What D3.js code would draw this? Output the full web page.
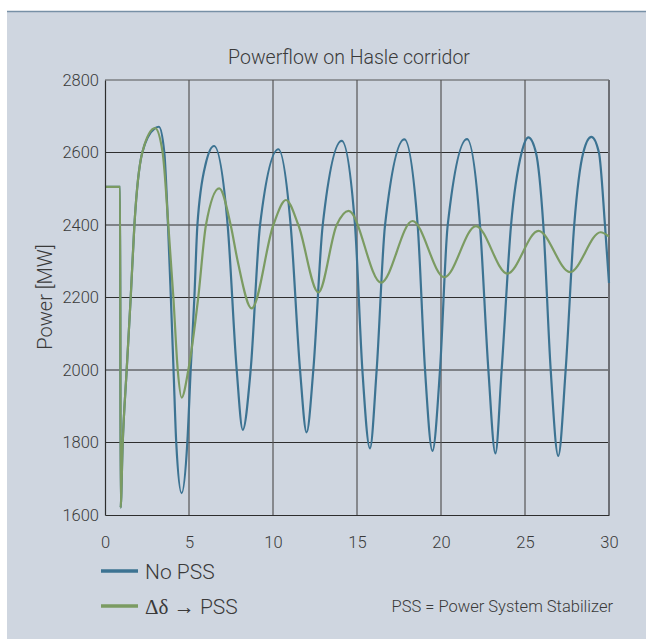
<!DOCTYPE html>
<html>
<head>
<meta charset="utf-8">
<script src="https://cdn.jsdelivr.net/npm/d3@7"></script>
<style>
  body { margin: 0; background: #fff; }
  text { font-family: Roboto, "Liberation Sans", sans-serif; font-weight: 300; fill: #3a3a3a; }
</style>
</head>
<body>
<div id="chart-area"></div>
<script>
const W = 646, H = 639
const MARGIN = { LEFT: 105, RIGHT: 37, TOP: 80, BOTTOM: 124 }
const WIDTH = W - MARGIN.LEFT - MARGIN.RIGHT
const HEIGHT = H - MARGIN.TOP - MARGIN.BOTTOM

// data: time [s], power [MW]
const noPssTime = [0, 0.9, 0.93, 1.05, 1.29, 1.53, 1.75, 2.22, 2.98, 3.21, 3.53, 3.75, 3.92, 4.08, 4.24, 4.56, 4.9, 5.1, 5.32, 5.5, 6.0, 6.49,
  7.3, 7.84, 8.2, 8.67, 9.23, 10.32, 11.05, 11.61, 12.0, 12.4, 12.96, 14.09, 14.88, 15.32, 15.77, 16.17, 16.67, 17.82,
  18.61, 19.05, 19.49, 19.94, 20.4, 21.55, 22.32, 22.82, 23.24, 23.61, 24.17, 24.8, 25.2, 25.65, 26.09, 26.53, 26.98,
  27.42, 27.93, 28.47, 28.95, 29.4, 29.76, 30]
const noPssPower = [2505, 2505, 1620, 1793, 2000, 2200, 2400, 2600, 2667, 2671, 2600, 2400, 2200, 2000, 1800, 1660, 1800, 2000, 2200, 2400, 2570, 2618,
  2400, 2000, 1835, 2000, 2400, 2609, 2400, 2000, 1828, 2000, 2400, 2632, 2400, 2000, 1784, 2000, 2400, 2636,
  2400, 2000, 1777, 2000, 2400, 2637, 2400, 2000, 1770, 2000, 2400, 2600, 2642, 2600, 2400, 2000, 1763,
  2000, 2400, 2600, 2643, 2600, 2400, 2240]

const pssTime = [0, 0.9, 0.93, 1.05, 1.29, 1.53, 1.75, 2.22, 2.98, 3.43, 3.77, 4.07, 4.33, 4.56, 4.96, 5.55, 6.01, 6.8,
  7.48, 7.9, 8.73, 10.02, 10.77, 11.51, 12.7, 13.79, 14.5, 16.43, 18.3, 20.2, 22.08, 23.95, 25.8, 27.68, 29.5, 30]
const pssPower = [2505, 2505, 1620, 1793, 2000, 2200, 2400, 2600, 2667, 2600, 2400, 2200, 2000, 1924, 2000, 2200, 2400, 2501,
  2400, 2300, 2170, 2400, 2469, 2400, 2214, 2400, 2439, 2241, 2411, 2256, 2397, 2266, 2384, 2270, 2380, 2368]

const xTicks = [0, 5, 10, 15, 20, 25, 30]
const yTicks = [1600, 1800, 2000, 2200, 2400, 2600, 2800]

const BLUE = "#3c7392"
const GREEN = "#7b9b62"

const svg = d3.select("#chart-area").append("svg")
  .attr("width", W)
  .attr("height", H)

// panel
svg.append("rect")
  .attr("x", 7).attr("y", 12)
  .attr("width", W - 7).attr("height", H - 12)
  .attr("fill", "#cfd6e0")
svg.append("line")
  .attr("x1", 7).attr("x2", W)
  .attr("y1", 11.5).attr("y2", 11.5)
  .attr("stroke", "#7790a6")
  .attr("stroke-width", 1.5)

const g = svg.append("g")
  .attr("transform", `translate(${MARGIN.LEFT}, ${MARGIN.TOP})`)

const x = d3.scaleLinear().domain([0, 30]).range([0, WIDTH])
const y = d3.scaleLinear().domain([1600, 2800]).range([HEIGHT, 0])

// grid
g.selectAll(".hgrid")
  .data(yTicks.slice(1, -1))
  .enter().append("line")
  .attr("x1", 0).attr("x2", WIDTH)
  .attr("y1", d => y(d)).attr("y2", d => y(d))
  .attr("stroke", "#2e2e2e")
  .attr("stroke-width", 1)
g.selectAll(".vgrid")
  .data(xTicks.slice(1, -1))
  .enter().append("line")
  .attr("x1", d => x(d)).attr("x2", d => x(d))
  .attr("y1", 0).attr("y2", HEIGHT)
  .attr("stroke", "#555")
  .attr("stroke-width", 1.2)

// frame
g.append("line").attr("x1", 0).attr("x2", WIDTH).attr("y1", 0).attr("y2", 0)
  .attr("stroke", "#555").attr("stroke-width", 1.2)
g.append("line").attr("x1", WIDTH).attr("x2", WIDTH).attr("y1", 0).attr("y2", HEIGHT)
  .attr("stroke", "#6d6f75").attr("stroke-width", 2)

// series
const line = d3.line()
  .x(d => x(d[0]))
  .y(d => y(d[1]))
  .curve(d3.curveMonotoneX)

g.append("path")
  .datum(d3.zip(noPssTime, noPssPower))
  .attr("fill", "none")
  .attr("stroke", BLUE)
  .attr("stroke-width", 2.2)
  .attr("d", line)

g.append("path")
  .datum(d3.zip(pssTime, pssPower))
  .attr("fill", "none")
  .attr("stroke", GREEN)
  .attr("stroke-width", 2.2)
  .attr("d", line)

// axes
const yAxisCall = d3.axisLeft(y).tickValues(yTicks).tickSize(0).tickPadding(6).tickFormat(d3.format("d"))
g.append("g")
  .attr("class", "y axis")
  .call(yAxisCall)
  .call(a => a.select(".domain").attr("stroke", "#2e2e2e").attr("stroke-width", 1.2))
  .selectAll("text")
    .attr("font-size", "16.5px")
    .attr("fill", "#3a3a3a")

const xAxisCall = d3.axisBottom(x).tickValues(xTicks).tickSize(0).tickPadding(21)
g.append("g")
  .attr("class", "x axis")
  .attr("transform", `translate(0, ${HEIGHT})`)
  .call(xAxisCall)
  .call(a => a.select(".domain").attr("stroke", "#2e2e2e").attr("stroke-width", 1.2))
  .selectAll("text")
    .attr("font-size", "16.5px")
    .attr("fill", "#3a3a3a")

// title
svg.append("text")
  .attr("x", 349).attr("y", 64)
  .attr("text-anchor", "middle")
  .attr("font-size", "19.5px")
  .text("Powerflow on Hasle corridor")

// y label
svg.append("text")
  .attr("transform", "translate(52, 297) rotate(-90)")
  .attr("text-anchor", "middle")
  .attr("font-size", "20px")
  .text("Power [MW]")

// legend
const legend = [
  { name: "No PSS", color: BLUE, y: 571 },
  { name: "Δδ → PSS", color: GREEN, y: 606 }
]
legend.forEach(l => {
  svg.append("line")
    .attr("x1", 101).attr("x2", 138)
    .attr("y1", l.y).attr("y2", l.y)
    .attr("stroke", l.color)
    .attr("stroke-width", 3.5)
  const t = svg.append("text")
    .attr("x", 145).attr("y", l.y + 7.5)
    .attr("font-size", "21px")
  if (l.name.startsWith("Δ")) {
    t.append("tspan").attr("font-family", "'Liberation Serif', serif").attr("font-weight", 400).text("Δδ → ")
    t.append("tspan").text("PSS")
  } else {
    t.text(l.name)
  }
})

svg.append("text")
  .attr("x", 613).attr("y", 612)
  .attr("text-anchor", "end")
  .attr("font-size", "16.5px")
  .text("PSS = Power System Stabilizer")
</script>
</body>
</html>
